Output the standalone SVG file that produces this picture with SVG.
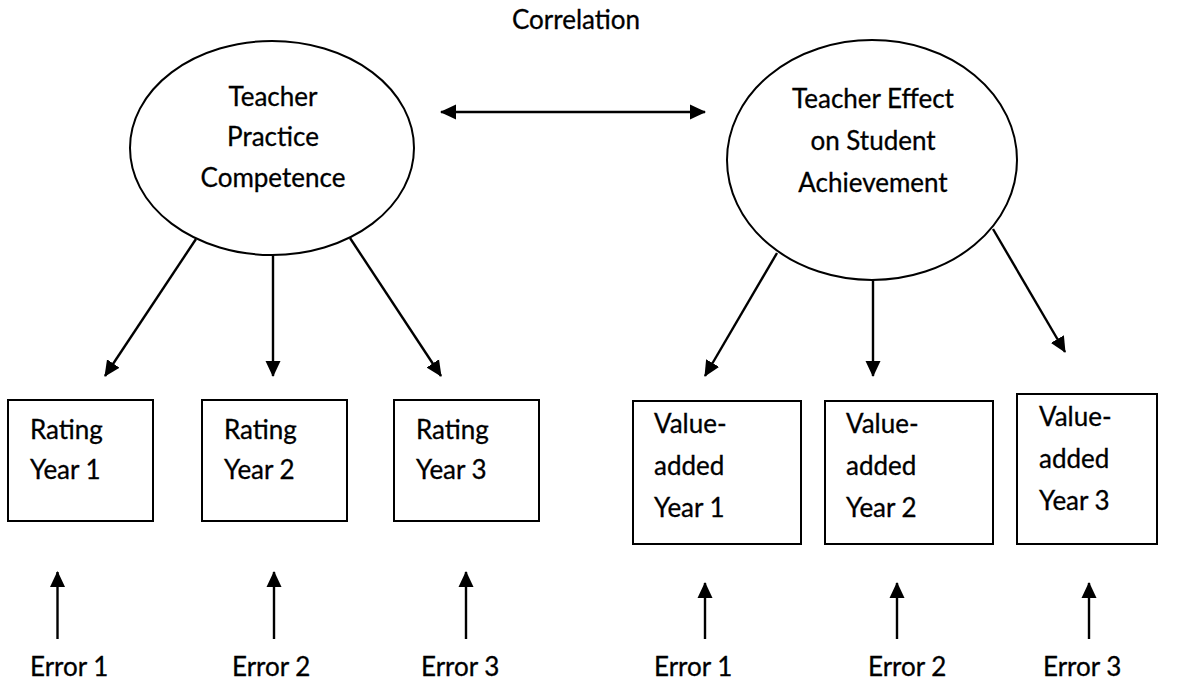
<svg xmlns="http://www.w3.org/2000/svg" width="1180" height="683" viewBox="0 0 1180 683">
<style>
  .shape { fill: #ffffff; stroke: #000000; stroke-width: 2; }
  .conn { stroke: #000000; stroke-width: 2.4; fill: none; }
  .t { font-family: Lato, "Liberation Sans", sans-serif; font-size: 26px; fill: #000000; stroke: #000000; stroke-width: 0.3; }
  .c { text-anchor: middle; }
</style>
<defs>
  <marker id="ah" viewBox="0 0 16 16" refX="15" refY="8" markerWidth="16" markerHeight="16" markerUnits="userSpaceOnUse" orient="auto-start-reverse">
    <path d="M0,0.5 L16,8 L0,15.5 z" fill="#000000"/>
  </marker>
</defs>
<rect width="1180" height="683" fill="#ffffff"/>

<text class="t c" x="576" y="29">Correlation</text>

<g id="connectors">
  <line class="conn" x1="441" y1="112" x2="705" y2="112" marker-start="url(#ah)" marker-end="url(#ah)"/>
  <line class="conn" x1="196" y1="239" x2="105" y2="376" marker-end="url(#ah)"/>
  <line class="conn" x1="273" y1="255" x2="273" y2="376" marker-end="url(#ah)"/>
  <line class="conn" x1="350" y1="238" x2="441" y2="376" marker-end="url(#ah)"/>
  <line class="conn" x1="777" y1="253" x2="705" y2="376" marker-end="url(#ah)"/>
  <line class="conn" x1="873" y1="280" x2="873" y2="376" marker-end="url(#ah)"/>
  <line class="conn" x1="993" y1="229" x2="1065" y2="352" marker-end="url(#ah)"/>
  <line class="conn" x1="57.5" y1="639" x2="57.5" y2="572" marker-end="url(#ah)"/>
  <line class="conn" x1="274" y1="639" x2="274" y2="572" marker-end="url(#ah)"/>
  <line class="conn" x1="466" y1="639" x2="466" y2="572" marker-end="url(#ah)"/>
  <line class="conn" x1="705" y1="639" x2="705" y2="583" marker-end="url(#ah)"/>
  <line class="conn" x1="897" y1="639" x2="897" y2="583" marker-end="url(#ah)"/>
  <line class="conn" x1="1089" y1="639" x2="1089" y2="583" marker-end="url(#ah)"/>
</g>

<g id="teacher-practice">
  <ellipse class="shape" cx="272" cy="148" rx="142" ry="107"/>
  <text class="t c" x="273" y="106">Teacher</text>
  <text class="t c" x="273" y="146">Practice</text>
  <text class="t c" x="273" y="187">Competence</text>
</g>

<g id="teacher-effect">
  <ellipse class="shape" cx="872" cy="160" rx="145" ry="120"/>
  <text class="t c" x="873" y="108">Teacher Effect</text>
  <text class="t c" x="873" y="150">on Student</text>
  <text class="t c" x="873" y="192">Achievement</text>
</g>

<g id="rating1">
  <rect class="shape" x="8" y="400" width="145" height="121"/>
  <text class="t" x="30" y="439">Rating</text>
  <text class="t" x="30" y="479">Year 1</text>
</g>
<g id="rating2">
  <rect class="shape" x="202" y="400" width="145" height="121"/>
  <text class="t" x="224" y="439">Rating</text>
  <text class="t" x="224" y="479">Year 2</text>
</g>
<g id="rating3">
  <rect class="shape" x="394" y="400" width="145" height="121"/>
  <text class="t" x="416" y="439">Rating</text>
  <text class="t" x="416" y="479">Year 3</text>
</g>

<g id="va1">
  <rect class="shape" x="633" y="401" width="168" height="143"/>
  <text class="t" x="654" y="433">Value-</text>
  <text class="t" x="654" y="475">added</text>
  <text class="t" x="654" y="517">Year 1</text>
</g>
<g id="va2">
  <rect class="shape" x="825" y="401" width="168" height="143"/>
  <text class="t" x="846" y="433">Value-</text>
  <text class="t" x="846" y="475">added</text>
  <text class="t" x="846" y="517">Year 2</text>
</g>
<g id="va3">
  <rect class="shape" x="1017" y="394" width="140" height="150"/>
  <text class="t" x="1039" y="426">Value-</text>
  <text class="t" x="1039" y="468">added</text>
  <text class="t" x="1039" y="510">Year 3</text>
</g>

<g id="errors">
  <text class="t" x="30" y="676">Error 1</text>
  <text class="t" x="232" y="676">Error 2</text>
  <text class="t" x="421" y="676">Error 3</text>
  <text class="t" x="654" y="676">Error 1</text>
  <text class="t" x="868" y="676">Error 2</text>
  <text class="t" x="1043" y="676">Error 3</text>
</g>
</svg>
